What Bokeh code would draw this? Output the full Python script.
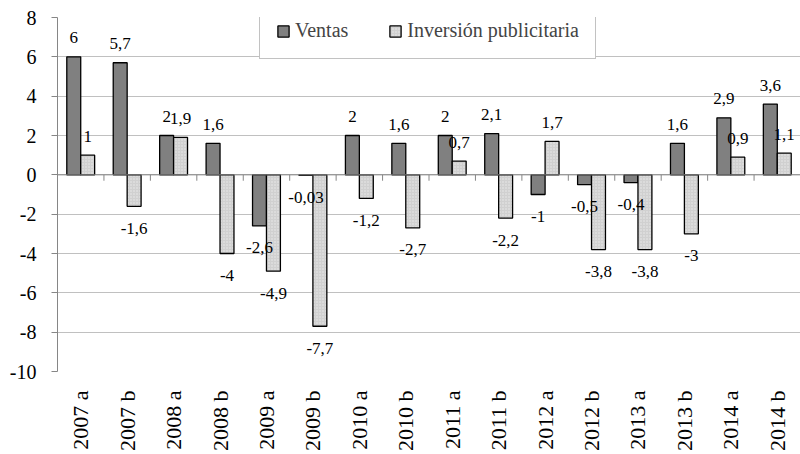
from math import pi
from bokeh.plotting import figure
from bokeh.models import (ColumnDataSource, FactorRange, FixedTicker, Legend,
                          LegendItem, Span)
from bokeh.transform import dodge
from bokeh.core.properties import value
from bokeh.embed import file_html
from bokeh.resources import INLINE

periods = ["2007 a", "2007 b", "2008 a", "2008 b", "2009 a", "2009 b",
           "2010 a", "2010 b", "2011 a", "2011 b", "2012 a", "2012 b",
           "2013 a", "2013 b", "2014 a", "2014 b"]
ventas = [6, 5.7, 2, 1.6, -2.6, -0.03, 2, 1.6, 2, 2.1, -1, -0.5, -0.4, 1.6, 2.9, 3.6]
inversion = [1, -1.6, 1.9, -4, -4.9, -7.7, -1.2, -2.7, 0.7, -2.2, 1.7, -3.8, -3.8, -3, 0.9, 1.1]
y_ticks = [-10, -8, -6, -4, -2, 0, 2, 4, 6, 8]

FONT = "Liberation Serif"


def fmt(v):
    return f"{v:g}".replace(".", ",")


def offs(vals):
    return [-19 if v >= 0 else 22 for v in vals]


src = ColumnDataSource(dict(
    period=periods, ventas=ventas, inversion=inversion,
    ventas_lbl=[fmt(v) for v in ventas], inv_lbl=[fmt(v) for v in inversion],
    ventas_off=offs(ventas), inv_off=offs(inversion),
))

p = figure(x_range=FactorRange(factors=periods, range_padding=0),
           y_range=(y_ticks[0], y_ticks[-1]),
           width=800, height=454, output_backend="svg", toolbar_location=None,
           min_border_left=57, min_border_right=0, min_border_top=17,
           min_border_bottom=81)
p.outline_line_color = None
p.background_fill_color = "white"

# grid
p.xgrid.grid_line_color = None
p.ygrid.ticker = FixedTicker(ticks=y_ticks)
p.ygrid.grid_line_color = "#c0c0c0"
p.ygrid.grid_line_width = 1

# y axis
p.yaxis.ticker = FixedTicker(ticks=y_ticks)
p.yaxis.major_label_overrides = {t: str(t) for t in y_ticks}
p.yaxis.axis_line_color = "#868686"
p.yaxis.major_tick_line_color = "#868686"
p.yaxis.major_tick_out = 6
p.yaxis.major_tick_in = 0
p.yaxis.minor_tick_line_color = None
p.yaxis.major_label_text_font = FONT
p.yaxis.major_label_text_font_size = "20px"
p.yaxis.major_label_text_color = "black"
p.yaxis.major_label_standoff = 15

# x axis
p.xaxis.axis_line_color = None
p.xaxis.major_tick_line_color = None
p.xaxis.major_label_orientation = pi / 2
p.xaxis.major_label_text_font = FONT
p.xaxis.major_label_text_font_size = "22px"
p.xaxis.major_label_text_color = "black"
p.xaxis.major_label_standoff = 13

# zero line
p.add_layout(Span(location=0, dimension="width", line_color="#868686", line_width=1))

# small tick marks on the zero line at category boundaries
bounds = list(range(1, len(periods)))
p.segment(x0=bounds, x1=bounds, y0=[0] * len(bounds), y1=[-0.3] * len(bounds),
          line_color="#868686", line_width=1)

r1 = p.vbar(x=dodge("period", -0.15, range=p.x_range), top="ventas", bottom=0,
            width=0.3, source=src, fill_color="#808080", line_color="black",
            line_width=1.3)
r2 = p.vbar(x=dodge("period", 0.15, range=p.x_range), top="inversion", bottom=0,
            width=0.3, source=src, fill_color="#d0d0d0", line_color="black",
            line_width=1.3, hatch_pattern="dot", hatch_color="#ebebeb",
            hatch_scale=3, hatch_weight=1.5)

p.text(x=dodge("period", -0.15, range=p.x_range), y="ventas", text="ventas_lbl",
       y_offset="ventas_off", source=src, text_align="center",
       text_baseline="middle", text_font=value(FONT), text_font_size="17px",
       text_color="black")
p.text(x=dodge("period", 0.15, range=p.x_range), y="inversion", text="inv_lbl",
       y_offset="inv_off", source=src, text_align="center",
       text_baseline="middle", text_font=value(FONT), text_font_size="17px",
       text_color="black")

legend = Legend(items=[LegendItem(label="Ventas", renderers=[r1]),
                       LegendItem(label="Inversión publicitaria", renderers=[r2])],
                orientation="horizontal", location=(202, 312), padding=16,
                spacing=40, glyph_width=14, glyph_height=14, label_standoff=5,
                label_height=20,
                label_text_font=FONT, label_text_font_size="20px",
                border_line_color="#868686", border_line_width=1,
                background_fill_color="white", background_fill_alpha=1, margin=0)
p.add_layout(legend)

open("out.html", "w").write(file_html(p, INLINE))
